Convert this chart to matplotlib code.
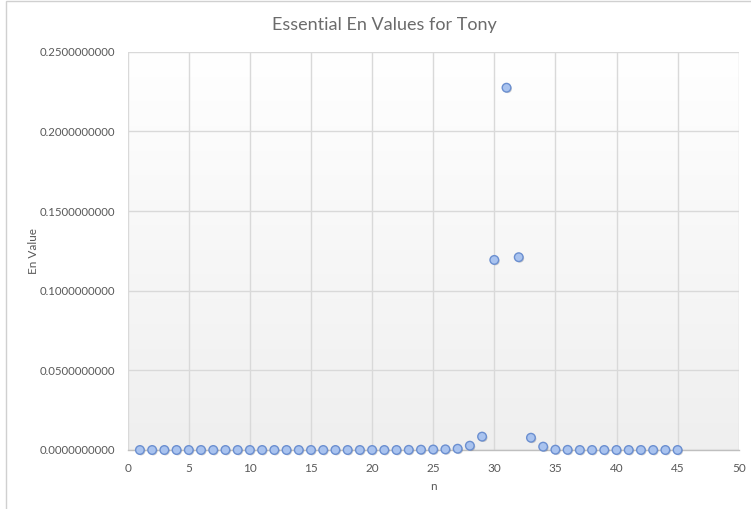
import numpy as np
import matplotlib
matplotlib.use("Agg")
import matplotlib.pyplot as plt
from matplotlib.ticker import FuncFormatter, MultipleLocator
from matplotlib.patches import Rectangle
import matplotlib.patheffects as pe

# Essential En values, one per n
n_values = list(range(1, 46))
en_values = [
    0.0, 0.0, 0.0, 0.0, 0.0, 0.0, 0.0, 0.0, 0.0, 0.0,
    0.0, 0.0, 0.0, 0.0, 0.0, 0.0, 0.0, 0.0, 0.0, 0.0,
    0.0, 0.0, 0.0001, 0.0002, 0.0003, 0.0004, 0.0008, 0.0027, 0.0084, 0.1193,
    0.2274, 0.1210, 0.0077, 0.0021, 0.0002, 0.0001, 0.0, 0.0, 0.0, 0.0,
    0.0, 0.0, 0.0, 0.0, 0.0,
]
title_text = "Essential En Values for Tony"
x_label = "n"
y_label = "En Value"

TEXT = "#595959"
GRID = "#d9d9d9"

plt.rcParams["font.family"] = ["Lato", "DejaVu Sans"]

fig = plt.figure(figsize=(7.51, 5.09), dpi=100)
W, H = 751, 509

# Chart frame (only left and top edges fall inside the image)
fig.patches.append(Rectangle((6 / W, -0.1), 1.2, 1 - 1 / H + 0.1,
                             transform=fig.transFigure, fill=False,
                             edgecolor="#d0d0d0", linewidth=1.0))

ax = fig.add_axes([127.7 / W, 1 - 450 / H, (738.7 - 127.7) / W, (450 - 51.7) / H])
ax.set_xlim(0, 50)
ax.set_ylim(0, 0.25)

# Plot-area vertical gradient: white at top to light grey at bottom
grad = np.linspace(1.0, 0.0, 256).reshape(-1, 1)
top = np.array([1.0, 1.0, 1.0])
bot = np.array([0.937, 0.937, 0.937])
img = top * grad[..., None] + bot * (1 - grad[..., None])
img = np.squeeze(img, axis=1)[:, None, :]
ax.imshow(img, extent=[0, 1, 0, 1], transform=ax.transAxes, aspect="auto",
          zorder=0, interpolation="bilinear")

ax.xaxis.set_major_locator(MultipleLocator(5))
ax.yaxis.set_major_locator(MultipleLocator(0.05))
ax.yaxis.set_major_formatter(FuncFormatter(lambda v, p: f"{v:.10f}"))
ax.grid(True, color=GRID, linewidth=1.0, zorder=1)
ax.set_axisbelow(True)

for side in ("top", "right", "left"):
    ax.spines[side].set_visible(False)
ax.spines["bottom"].set_color("#bfbfbf")
ax.spines["bottom"].set_linewidth(1.0)
ax.tick_params(axis="y", length=0, labelsize=8.2, labelcolor=TEXT, pad=9)
ax.tick_params(axis="x", length=0, labelsize=8.5, labelcolor=TEXT, pad=9)

ax.plot(n_values, en_values, linestyle="none", marker="o", markersize=6.2,
        markerfacecolor="#a9c3ef", markeredgecolor="#6b8fd0",
        markeredgewidth=1.0, zorder=3, clip_on=False,
        path_effects=[pe.SimplePatchShadow(offset=(0.8, -0.8), alpha=0.25),
                      pe.Normal()])

ax.set_xlabel(x_label, fontsize=8.5, color=TEXT)
ax.xaxis.set_label_coords(0.5, (450 - 481) / (450 - 51.7), transform=ax.transAxes)
ax.set_ylabel(y_label, fontsize=8.5, color=TEXT)
ax.yaxis.set_label_coords((38.5 - 127.7) / (738.7 - 127.7), 0.5, transform=ax.transAxes)

fig.text(384 / W, 1 - 25 / H, title_text, ha="center", va="center",
         fontsize=13, color="#6b6b6b")

fig.savefig("out.png", dpi=100)
